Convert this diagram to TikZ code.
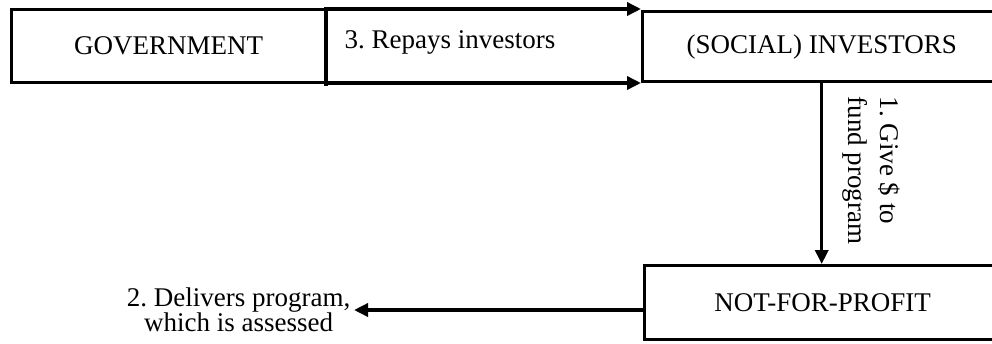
\documentclass[tikz,border=0pt]{standalone}
\usepackage{fontspec}
\setmainfont{Liberation Serif}
\usetikzlibrary{arrows.meta}
\begin{document}
\frenchspacing
\begin{tikzpicture}[x=1pt,y=-1pt,line width=3.4pt,
  txt/.style={font=\fontsize{27}{25}\selectfont},
  box/.style={draw,line width=3.4pt,txt,inner sep=0pt,anchor=north west},
  lbl/.style={txt,inner sep=0pt},
  arr/.style={-{Triangle[length=14pt,width=13pt]},line width=3.4pt}]
\useasboundingbox (0,0) rectangle (992,343);
\node[box,minimum width=314pt,minimum height=73pt] (gov) at (10,8) {GOVERNMENT};
\node[box,minimum width=358pt,minimum height=70pt] (inv) at (641,10) {(SOCIAL) INVESTORS};
\node[box,minimum width=356pt,minimum height=74pt] (nfp) at (643,264) {NOT-FOR-PROFIT};
% middle "repays" box
\coordinate (mtl) at (326,9);
\coordinate (mbl) at (326,84);
\coordinate (mbl2) at (326,83);
\node[lbl,anchor=base west] (repay) at (343,48) {\frenchspacing 3. Repays investors};
\draw[line cap=rect] (mtl) -- (mbl);
\draw[arr] (mtl) -- (mtl -| inv.west);
\draw[arr] (mbl2) -- (mbl2 -| inv.west);
% vertical arrow
\draw[arr] (inv.south) -- (inv.south |- nfp.north);
\node[lbl,rotate=-90,anchor=north west,align=left,font=\fontsize{27}{32}\selectfont] (give) at (902,95) {\frenchspacing 1. Give \$ to\\fund program};
% delivers
\node[lbl,align=center,anchor=east,inner sep=2pt] (deliv) at (354,310) {\frenchspacing 2. Delivers program,\\which is assessed};
\draw[arr] (nfp.west |- deliv.east) -- (deliv.east);
\end{tikzpicture}
\end{document}
